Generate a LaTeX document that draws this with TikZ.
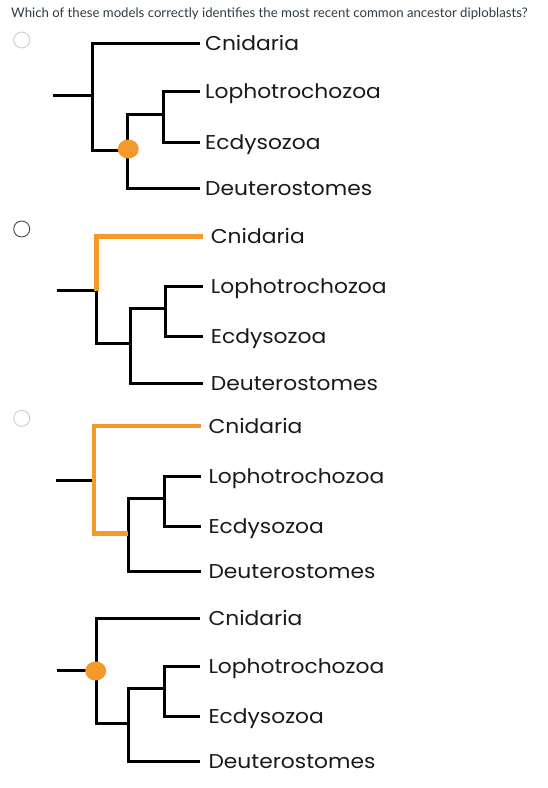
\documentclass[tikz,border=0pt]{standalone}
\usepackage{fontspec}
\setmainfont{Lato}
\newfontfamily\labelfont[FakeStretch=1.09]{Poppins}
\definecolor{titlegray}{HTML}{2D3B45}
\definecolor{brorange}{HTML}{F39A2B}
\definecolor{radiolight}{HTML}{C7CDD1}
\definecolor{radiodark}{HTML}{4A4A4A}
\tikzset{
  br/.style={line width=3pt, black},
  obr/.style={line width=4.6pt, brorange},
  taxon/.style={anchor=west, font=\labelfont\fontsize{20}{20}\selectfont, text=black!90,
    inner ysep=0pt, text height=14pt, text depth=0pt},
  radio/.style={circle, draw, line width=0.9pt, minimum size=16pt, inner sep=0pt},
  mrca/.style={ellipse, fill=brorange, minimum width=21pt, minimum height=19pt, inner sep=0pt}
}
\usetikzlibrary{shapes.geometric}
\begin{document}
\begin{tikzpicture}[x=1pt,y=-1pt]
\useasboundingbox (0,0) rectangle (547,788);
\node[anchor=west, inner sep=0pt, text=titlegray, font=\fontsize{13.2}{15}\selectfont] (title) at (11,14)
  {Which of these models correctly identifies the most recent common ancestor diploblasts?};

% ---------- panel 1 ----------
\node[radio, draw=radiolight] (r1) at (21.7,40) {};
\node[taxon, inner xsep=5pt] (c1) at (200,43.3) {Cnidaria};
\node[taxon, inner xsep=5pt] (l1) at (200,91.7) {Lophotrochozoa};
\node[taxon, inner xsep=5pt] (e1) at (200,142.3) {Ecdysozoa};
\node[taxon, inner xsep=5pt] (d1) at (200,188.3) {Deuterostomes};
\coordinate (p1r) at (53,95.7);
\coordinate (p1j) at (92.7,95.7);
\coordinate (p1k) at (127.7,150);
\coordinate (p1m) at (163.3,114.3);
\draw[br] (p1r) -- (p1j);
\draw[br] (c1.west) -| (p1j);
\draw[br] (p1j) |- (p1k);
\draw[br] (p1k) |- (p1m);
\draw[br] (p1k) |- (d1.west);
\draw[br] (p1m) |- (l1.west);
\draw[br] (p1m) |- (e1.west);
\node[mrca] (o1) at (128.3,149) {};

% ---------- panel 2 ----------
\node[radio, draw=radiodark] (r2) at (21.7,229) {};
\node[taxon, inner xsep=7.7pt] (c2) at (203,236.7) {Cnidaria};
\node[taxon, inner xsep=7.7pt] (l2) at (203,286) {Lophotrochozoa};
\node[taxon, inner xsep=7.7pt] (e2) at (203,336.7) {Ecdysozoa};
\node[taxon, inner xsep=7.7pt] (d2) at (203,383.3) {Deuterostomes};
\coordinate (p2r) at (56.7,290.7);
\coordinate (p2j) at (96.7,290.7);
\coordinate (p2k) at (130,343.3);
\coordinate (p2m) at (165,308.3);
\draw[br] (p2r) -- (p2j);
\draw[br] (p2j) |- (p2k);
\draw[br] (p2k) |- (p2m);
\draw[br] (p2k) |- (d2.west);
\draw[br] (p2m) |- (l2.west);
\draw[br] (p2m) |- (e2.west);
\draw[obr] (c2.west) -| (p2j);

% ---------- panel 3 ----------
\node[radio, draw=radiolight] (r3) at (21.7,418.3) {};
\node[taxon, inner xsep=7pt] (c3) at (201.3,426) {Cnidaria};
\node[taxon, inner xsep=7pt] (l3) at (201.3,476) {Lophotrochozoa};
\node[taxon, inner xsep=7pt] (e3) at (201.3,526) {Ecdysozoa};
\node[taxon, inner xsep=7pt] (d3) at (201.3,571.7) {Deuterostomes};
\coordinate (p3r) at (56,480);
\coordinate (p3j) at (94,480);
\coordinate (p3k) at (128,533.3);
\coordinate (p3m) at (164.3,498.3);
\draw[br] (p3r) -- (p3j);
\draw[br] (p3k) |- (p3m);
\draw[br] (p3k) |- (d3.west);
\draw[br] (p3m) |- (l3.west);
\draw[br] (p3m) |- (e3.west);
\draw[obr] (c3.west) -| (p3j) |- (p3k);

% ---------- panel 4 ----------
\node[taxon, inner xsep=8.3pt] (c4) at (200,618.3) {Cnidaria};
\node[taxon, inner xsep=8.3pt] (l4) at (200,666) {Lophotrochozoa};
\node[taxon, inner xsep=8.3pt] (e4) at (200,716.7) {Ecdysozoa};
\node[taxon, inner xsep=8.3pt] (d4) at (200,761.7) {Deuterostomes};
\coordinate (p4r) at (56.7,670.7);
\coordinate (p4j) at (96,670.7);
\coordinate (p4k) at (128.3,723.3);
\coordinate (p4m) at (164.3,688.3);
\draw[br] (p4r) -- (p4j);
\draw[br] (c4.west) -| (p4j);
\draw[br] (p4j) |- (p4k);
\draw[br] (p4k) |- (p4m);
\draw[br] (p4k) |- (d4.west);
\draw[br] (p4m) |- (l4.west);
\draw[br] (p4m) |- (e4.west);
\node[mrca] (o4) at (95.7,671) {};
\end{tikzpicture}
\end{document}
